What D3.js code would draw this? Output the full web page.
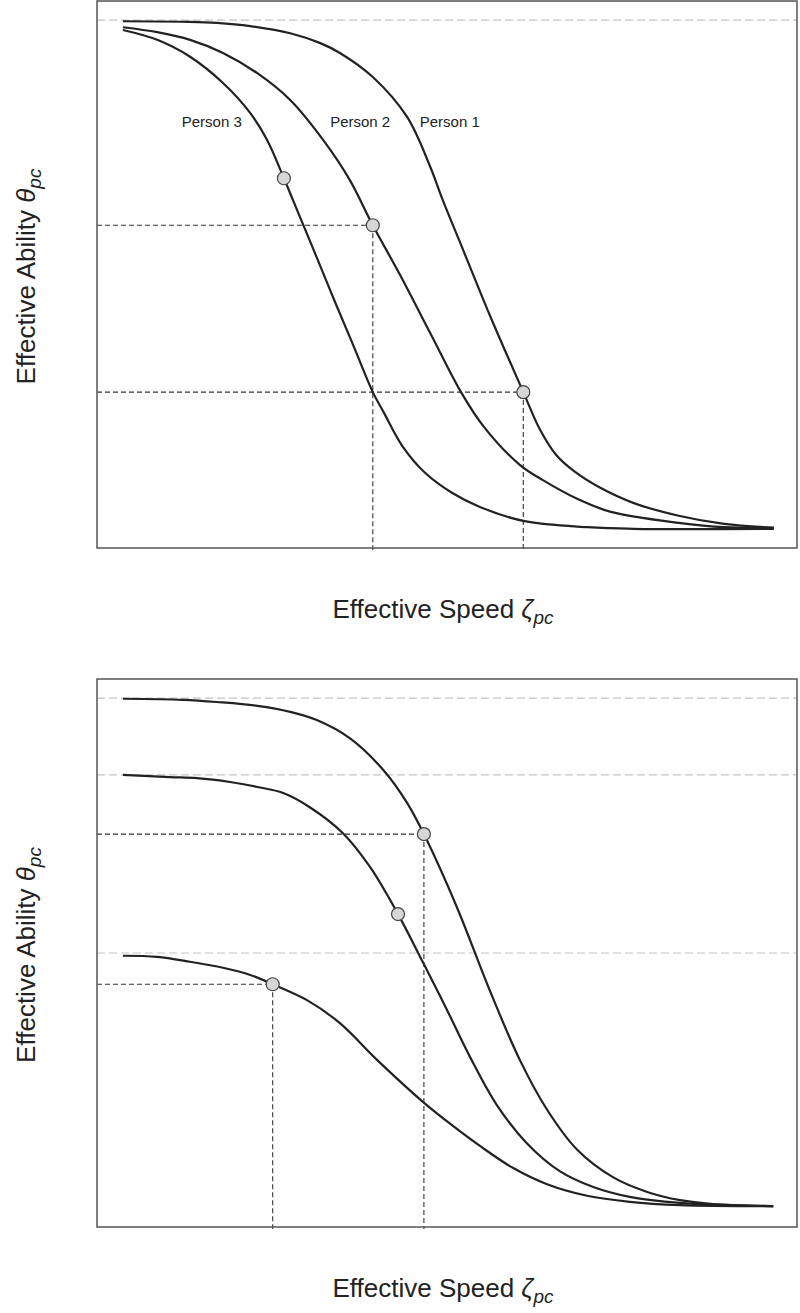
<!DOCTYPE html>
<html>
<head>
<meta charset="utf-8">
<script src="https://cdn.jsdelivr.net/npm/d3@7"></script>
<style>
  html, body { margin: 0; padding: 0; background: #fff; }
  svg { display: block; }
  text { font-family: "Liberation Sans", Arial, Helvetica, sans-serif; fill: #222; }
</style>
</head>
<body>
<svg id="chart" width="800" height="1313"></svg>
<script>
// ---------------- DATA ----------------
// Axis labels
const xLabel = "Effective Speed ";
const xSymbol = "ζ";
const yLabel = "Effective Ability ";
const ySymbol = "θ";
const subScript = "pc";

// Top panel: curves [speed, ability]
const topPerson1 = [[0.37,9.63],[1.29,9.62],[1.71,9.6],[2.19,9.54],[2.76,9.41],[3.19,9.23],[3.47,9.05],[3.94,8.61],[4.43,7.88],[4.76,6.97],[4.94,6.36],[5.23,5.45],[5.61,4.26],[6.09,2.85],[6.33,2.16],[6.56,1.7],[6.83,1.39],[7.19,1.1],[7.67,0.82],[8.31,0.59],[8.96,0.44],[9.67,0.37]];
const topPerson2 = [[0.37,9.52],[0.86,9.43],[1.33,9.29],[1.8,9.05],[2.29,8.68],[2.76,8.19],[3.23,7.46],[3.61,6.73],[3.94,5.9],[4.33,4.99],[4.76,3.93],[5.2,2.85],[5.53,2.21],[6.04,1.52],[6.37,1.24],[6.89,0.88],[7.34,0.66],[8.31,0.46],[8.96,0.38],[9.67,0.37]];
const topPerson3 = [[0.37,9.47],[0.86,9.29],[1.33,8.98],[1.8,8.5],[2.19,7.95],[2.43,7.46],[2.67,6.76],[2.9,6.05],[3.13,5.34],[3.39,4.53],[3.66,3.71],[3.94,2.85],[4.1,2.47],[4.37,1.85],[4.69,1.37],[5.07,1.01],[5.47,0.75],[6.11,0.49],[7.01,0.38],[7.67,0.35],[9.67,0.35]];
const topNames = ["Person 1", "Person 2", "Person 3"];
const topNamePos = [[5.04, 7.7], [3.76, 7.7], [1.64, 7.7]];
const topMarkers = [[6.09,2.85],[3.94,5.9],[2.67,6.76]];
const topMarkerDashed = [true, true, false];
const topRefLines = [9.65];

// Bottom panel
const botCurveA = [[0.37,9.64],[1.23,9.62],[1.71,9.58],[2.29,9.51],[2.76,9.4],[3.14,9.25],[3.61,8.92],[4.09,8.34],[4.43,7.74],[4.67,7.17],[5.14,5.84],[5.61,4.32],[6.04,3.05],[6.43,2.14],[6.86,1.41],[7.37,0.91],[7.86,0.64],[8.33,0.49],[8.8,0.42],[9.66,0.38]];
const botCurveB = [[0.37,8.25],[1.04,8.21],[1.43,8.19],[1.9,8.12],[2.29,8.03],[2.66,7.92],[3.04,7.66],[3.51,7.19],[3.9,6.57],[4.3,5.71],[4.66,4.82],[5.0,3.96],[5.33,3.1],[5.71,2.23],[6.14,1.53],[6.61,1.02],[7.09,0.73],[7.61,0.55],[8.33,0.44],[9.66,0.38]];
const botCurveC = [[0.37,4.95],[0.86,4.93],[1.33,4.84],[1.8,4.73],[2.19,4.6],[2.51,4.43],[3.0,4.14],[3.47,3.72],[4.0,3.05],[4.66,2.28],[5.09,1.84],[5.47,1.48],[5.94,1.08],[6.43,0.78],[7.0,0.57],[7.61,0.46],[8.33,0.4],[9.66,0.38]];
const botMarkers = [[4.67,7.17],[4.3,5.71],[2.51,4.43]];
const botMarkerDashed = [true, false, true];
const botRefLines = [9.65, 8.25, 5.0];

const xDomain = [0, 10];
const yDomain = [0, 10];

// ---------------- DRAW ----------------
const svg = d3.select("#chart");

function panel(cfg) {
  const x = d3.scaleLinear().domain(xDomain).range([cfg.left, cfg.right]);
  const y = d3.scaleLinear().domain(yDomain).range([cfg.bottom, cfg.top]);
  const g = svg.append("g");

  // grey reference lines
  g.selectAll(".ref").data(cfg.refs).join("line")
    .attr("x1", x(xDomain[0])).attr("x2", x(xDomain[1]))
    .attr("y1", d => y(d)).attr("y2", d => y(d))
    .attr("stroke", "#c4c4c4").attr("stroke-width", 1.2)
    .attr("stroke-dasharray", "8,4");

  // dashed drop lines
  const dm = cfg.markers.filter((d, i) => cfg.dashed[i]);
  g.selectAll(".hd").data(dm).join("line")
    .attr("x1", x(xDomain[0])).attr("x2", d => x(d[0]))
    .attr("y1", d => y(d[1])).attr("y2", d => y(d[1]))
    .attr("stroke", "#333").attr("stroke-width", 1.1).attr("stroke-dasharray", "5,3");
  g.selectAll(".vd").data(dm).join("line")
    .attr("x1", d => x(d[0])).attr("x2", d => x(d[0]))
    .attr("y1", d => y(d[1])).attr("y2", y(yDomain[0]) + 2)
    .attr("stroke", "#333").attr("stroke-width", 1.1).attr("stroke-dasharray", "5,3");

  // curves
  const line = d3.line().x(d => x(d[0])).y(d => y(d[1])).curve(d3.curveCatmullRom.alpha(0.5));
  g.selectAll(".curve").data(cfg.curves).join("path")
    .attr("d", line).attr("fill", "none")
    .attr("stroke", "#222").attr("stroke-width", 2.2)
    .attr("stroke-linejoin", "round");

  // markers
  g.selectAll(".mk").data(cfg.markers).join("circle")
    .attr("cx", d => x(d[0])).attr("cy", d => y(d[1])).attr("r", 6.5)
    .attr("fill", "#d6d6d6").attr("stroke", "#444").attr("stroke-width", 1.2);

  // names
  if (cfg.names) {
    g.selectAll(".nm").data(cfg.names).join("text")
      .attr("x", (d, i) => x(cfg.namePos[i][0])).attr("y", (d, i) => y(cfg.namePos[i][1]))
      .attr("text-anchor", "middle").attr("font-size", 15).text(d => d);
  }

  // frame
  g.append("rect")
    .attr("x", cfg.left).attr("y", cfg.top)
    .attr("width", cfg.right - cfg.left).attr("height", cfg.bottom - cfg.top)
    .attr("fill", "none").attr("stroke", "#555").attr("stroke-width", 1.5);

  // x label
  const xt = g.append("text")
    .attr("x", (cfg.left + cfg.right) / 2 - 4).attr("y", cfg.bottom + 70)
    .attr("text-anchor", "middle").attr("font-size", 26);
  xt.append("tspan").text(xLabel);
  xt.append("tspan").attr("font-style", "italic").text(xSymbol);
  xt.append("tspan").attr("font-style", "italic").attr("font-size", 19).attr("dy", 6).text(subScript);

  // y label
  const yt = g.append("text")
    .attr("transform", `translate(35,${(cfg.top + cfg.bottom) / 2 + 2}) rotate(-90)`)
    .attr("text-anchor", "middle").attr("font-size", 26);
  yt.append("tspan").text(yLabel);
  yt.append("tspan").attr("font-style", "italic").text(ySymbol);
  yt.append("tspan").attr("font-style", "italic").attr("font-size", 19).attr("dy", 6).text(subScript);
}

panel({
  left: 97, right: 797, top: 1, bottom: 548,
  curves: [topPerson1, topPerson2, topPerson3],
  markers: topMarkers, dashed: topMarkerDashed, refs: topRefLines,
  names: topNames, namePos: topNamePos
});

panel({
  left: 97, right: 797, top: 679, bottom: 1227,
  curves: [botCurveA, botCurveB, botCurveC],
  markers: botMarkers, dashed: botMarkerDashed, refs: botRefLines
});
</script>
</body>
</html>
